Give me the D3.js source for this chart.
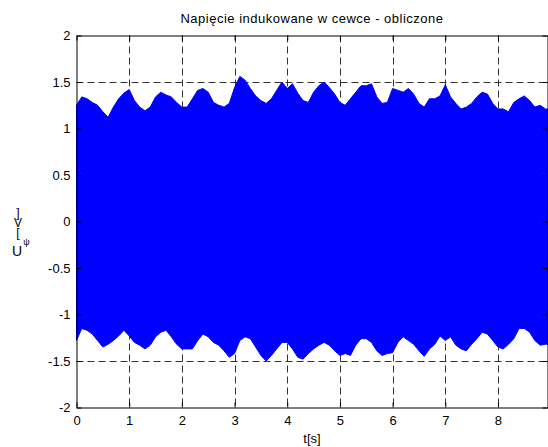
<!DOCTYPE html>
<html>
<head>
<meta charset="utf-8">
<script src="https://cdn.jsdelivr.net/npm/d3@7"></script>
<style>
  html, body { margin: 0; padding: 0; background: #fff; }
  svg { display: block; font-family: "Liberation Sans", Arial, sans-serif; }
</style>
</head>
<body>
<svg id="chart" width="548" height="447"></svg>
<script>
// time samples [s]
const times = [
  0.0, 0.1, 0.2, 0.3, 0.4, 0.5, 0.6, 0.7, 0.8, 0.9,
  1.0, 1.1, 1.2, 1.3, 1.4, 1.5, 1.6, 1.7, 1.8, 1.9,
  2.0, 2.1, 2.2, 2.3, 2.4, 2.5, 2.6, 2.7, 2.8, 2.9,
  3.0, 3.1, 3.2, 3.3, 3.4, 3.5, 3.6, 3.7, 3.8, 3.9,
  4.0, 4.1, 4.2, 4.3, 4.4, 4.5, 4.6, 4.7, 4.8, 4.9,
  5.0, 5.1, 5.2, 5.3, 5.4, 5.5, 5.6, 5.7, 5.8, 5.9,
  6.0, 6.1, 6.2, 6.3, 6.4, 6.5, 6.6, 6.7, 6.8, 6.9,
  7.0, 7.1, 7.2, 7.3, 7.4, 7.5, 7.6, 7.7, 7.8, 7.9,
  8.0, 8.1, 8.2, 8.3, 8.4, 8.5, 8.6, 8.7, 8.8, 8.9, 8.95
];
// upper envelope of the induced voltage [V]
const upperEnv = [
  1.25, 1.34, 1.32, 1.28, 1.25, 1.18, 1.12, 1.23, 1.32, 1.38,
  1.42, 1.30, 1.23, 1.19, 1.23, 1.34, 1.39, 1.36, 1.34, 1.28,
  1.23, 1.23, 1.32, 1.41, 1.43, 1.39, 1.28, 1.25, 1.23, 1.27,
  1.44, 1.56, 1.52, 1.43, 1.35, 1.30, 1.27, 1.32, 1.41, 1.50,
  1.43, 1.48, 1.38, 1.30, 1.28, 1.39, 1.46, 1.50, 1.44, 1.37,
  1.28, 1.25, 1.32, 1.39, 1.46, 1.46, 1.48, 1.34, 1.27, 1.28,
  1.43, 1.41, 1.39, 1.43, 1.37, 1.27, 1.23, 1.32, 1.32, 1.35,
  1.47, 1.34, 1.27, 1.21, 1.23, 1.27, 1.34, 1.39, 1.37, 1.27,
  1.21, 1.21, 1.18, 1.28, 1.32, 1.35, 1.30, 1.23, 1.25, 1.21, 1.21
];
// lower envelope of the induced voltage [V]
const lowerEnv = [
  -1.28, -1.15, -1.17, -1.21, -1.28, -1.35, -1.32, -1.28, -1.23, -1.17,
  -1.23, -1.30, -1.33, -1.37, -1.33, -1.24, -1.19, -1.17, -1.24, -1.32,
  -1.37, -1.37, -1.37, -1.28, -1.21, -1.24, -1.30, -1.33, -1.39, -1.46,
  -1.42, -1.28, -1.24, -1.26, -1.35, -1.44, -1.50, -1.44, -1.37, -1.30,
  -1.30, -1.37, -1.46, -1.48, -1.42, -1.37, -1.33, -1.30, -1.33, -1.39,
  -1.44, -1.42, -1.44, -1.33, -1.26, -1.26, -1.30, -1.39, -1.44, -1.42,
  -1.41, -1.30, -1.24, -1.28, -1.32, -1.39, -1.45, -1.37, -1.32, -1.23,
  -1.28, -1.24, -1.33, -1.37, -1.39, -1.32, -1.26, -1.19, -1.21, -1.28,
  -1.35, -1.37, -1.32, -1.26, -1.15, -1.15, -1.19, -1.28, -1.33, -1.32, -1.32
];
const xTicks = [0, 1, 2, 3, 4, 5, 6, 7, 8];
const yTicks = [-2, -1.5, -1, -0.5, 0, 0.5, 1, 1.5, 2];

const svg = d3.select('#chart');

const plotLeft = 76.5, plotRight = 547.5, plotTop = 35.5, plotBottom = 407.5;

const xScale = d3.scaleLinear().domain([0, 8.94]).range([plotLeft, plotRight]);
const yScale = d3.scaleLinear().domain([-2, 2]).range([plotBottom, plotTop]);

const data = times.map((t, i) => ({ t: t, hi: upperEnv[i], lo: lowerEnv[i] }));

// dashed grid (under the signal)
const grid = svg.append('g').attr('class', 'grid');
grid.selectAll('.vgrid')
  .data(xTicks.filter(d => d > 0))
  .enter().append('line')
  .attr('x1', d => Math.round(xScale(d)) + 0.5)
  .attr('x2', d => Math.round(xScale(d)) + 0.5)
  .attr('y1', plotTop)
  .attr('y2', plotBottom)
  .attr('stroke', '#333')
  .attr('stroke-width', 1)
  .attr('stroke-dasharray', '7,4');
grid.selectAll('.hgrid')
  .data(yTicks.filter(d => d > -2 && d < 2))
  .enter().append('line')
  .attr('x1', plotLeft)
  .attr('x2', plotRight)
  .attr('y1', d => Math.round(yScale(d)) + 0.5)
  .attr('y2', d => Math.round(yScale(d)) + 0.5)
  .attr('stroke', '#333')
  .attr('stroke-width', 1)
  .attr('stroke-dasharray', '7,4');

// signal band
const area = d3.area()
  .x(d => xScale(d.t))
  .y0(d => yScale(d.lo))
  .y1(d => yScale(d.hi))
  .curve(d3.curveLinear);

svg.append('path')
  .datum(data)
  .attr('fill', '#0000ff')
  .attr('stroke', '#0000ff')
  .attr('stroke-width', 1)
  .attr('d', area);

// box axes with inward ticks
const tick = 5;
const fmt = d => String(d);
const axisBottom = d3.axisBottom(xScale).tickValues(xTicks).tickSizeInner(-tick).tickSizeOuter(0).tickPadding(8).tickFormat(fmt);
const axisTop = d3.axisTop(xScale).tickValues(xTicks).tickSizeInner(-tick).tickSizeOuter(0).tickFormat('');
const axisLeft = d3.axisLeft(yScale).tickValues(yTicks).tickSizeInner(-tick).tickSizeOuter(0).tickPadding(6).tickFormat(fmt);
const axisRight = d3.axisRight(yScale).tickValues(yTicks).tickSizeInner(-tick).tickSizeOuter(0).tickFormat('');

svg.append('g').attr('transform', `translate(0,${plotBottom})`).call(axisBottom);
svg.append('g').attr('transform', `translate(0,${plotTop})`).call(axisTop);
svg.append('g').attr('transform', `translate(${plotLeft},0)`).call(axisLeft);
svg.append('g').attr('transform', `translate(${plotRight},0)`).call(axisRight);

svg.selectAll('.domain').attr('stroke', '#000').attr('stroke-width', 1);
svg.selectAll('.tick line').attr('stroke', '#000');
svg.selectAll('.tick text')
  .attr('font-family', '"Liberation Sans", Arial, sans-serif')
  .attr('font-size', 13)
  .attr('fill', '#000');

// title
svg.append('text')
  .attr('x', (plotLeft + plotRight) / 2)
  .attr('y', 23)
  .attr('text-anchor', 'middle')
  .attr('font-size', 13)
  .attr('letter-spacing', 0.5)
  .attr('fill', '#000')
  .text('Napięcie indukowane w cewce - obliczone');

// x label
svg.append('text')
  .attr('x', (plotLeft + plotRight) / 2)
  .attr('y', 443)
  .attr('text-anchor', 'middle')
  .attr('font-size', 13)
  .attr('fill', '#000')
  .text('t[s]');

// y label: garbled "U_psi [V]" as in the original, unit stacked vertically
svg.append('text')
  .attr('x', 18)
  .attr('y', 206)
  .attr('font-size', 12)
  .attr('letter-spacing', -4)
  .attr('fill', '#000')
  .style('writing-mode', 'vertical-rl')
  .style('text-orientation', 'upright')
  .text(']V[');

const sym = svg.append('text')
  .attr('x', 12)
  .attr('y', 256)
  .attr('font-size', 14)
  .attr('fill', '#000');
sym.append('tspan').text('U');
sym.append('tspan').attr('dx', 1).attr('dy', -11).attr('font-size', 9).text('ψ');
</script>
</body>
</html>
